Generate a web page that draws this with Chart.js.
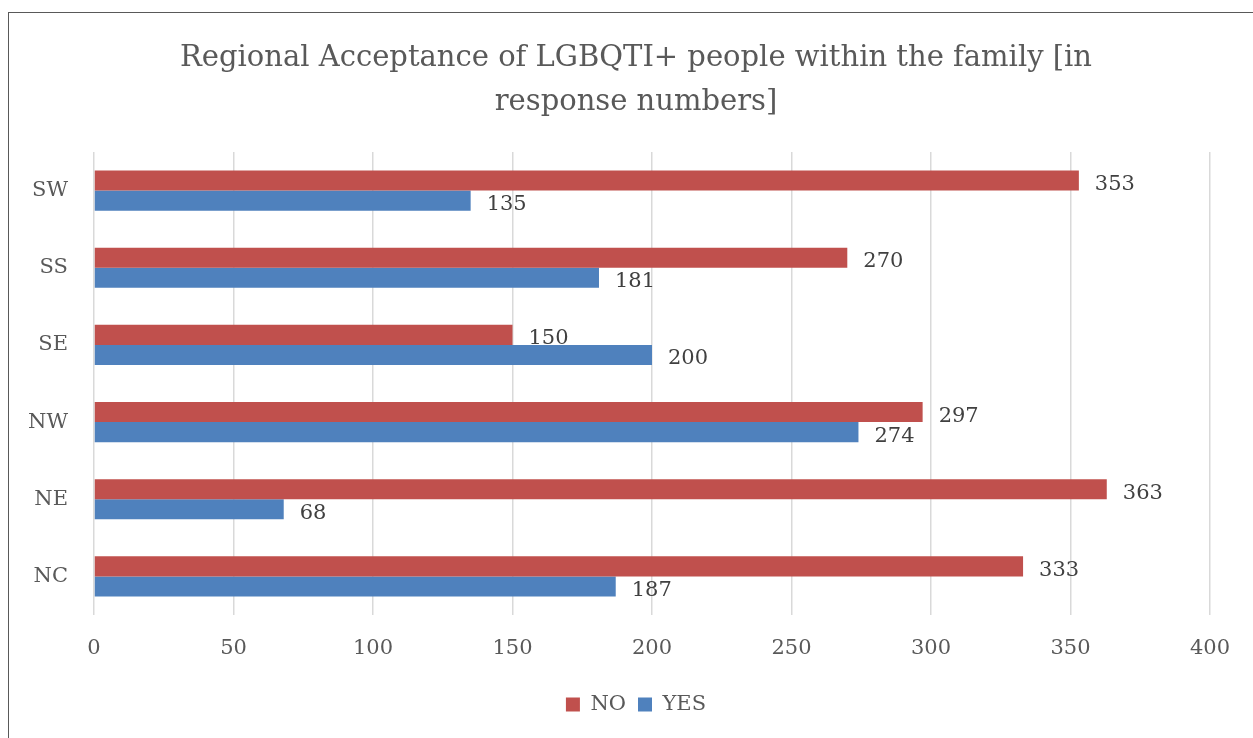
<!DOCTYPE html>
<html>
<head>
<meta charset="utf-8">
<script src="https://cdn.jsdelivr.net/npm/chart.js@4"></script>
<style>
  html, body { margin: 0; padding: 0; background: #fff; overflow: hidden; }
  #wrap { position: relative; width: 1253px; height: 738px; }
  #cadre { position: absolute; left: 8px; top: 12px; width: 1260px; height: 740px; border: 1.5px solid #595959; box-sizing: border-box; }
  canvas { position: absolute; left: 0; top: 0; }
</style>
</head>
<body>
<div id="wrap">
  <div id="cadre"></div>
  <canvas id="myChart" width="1253" height="738"></canvas>
</div>
<script>
// --- DONNÉES ---
const regions = ['SW', 'SS', 'SE', 'NW', 'NE', 'NC'];
const reponsesNon = [353, 270, 150, 297, 363, 333];
const reponsesOui = [135, 181, 200, 274, 68, 187];
const graduations = [0, 50, 100, 150, 200, 250, 300, 350, 400];

const police = '"DejaVu Serif", serif';

// étiquettes de valeur au bout des barres
const etiquettesValeurs = {
    id: 'etiquettesValeurs',
    afterDatasetsDraw(chart) {
        const c = chart.ctx;
        c.save();
        c.font = '21px ' + police;
        c.fillStyle = '#404040';
        c.textAlign = 'left';
        c.textBaseline = 'middle';
        chart.data.datasets.forEach((ds, i) => {
            chart.getDatasetMeta(i).data.forEach((bar, j) => {
                c.fillText(ds.data[j], bar.x + 16, bar.y + 4);
            });
        });
        c.restore();
    }
};

const ctx = document.getElementById('myChart').getContext('2d');
const myChart = new Chart(ctx, {
    type: 'bar',
    data: {
        labels: regions,
        datasets: [
            { label: 'NO', data: reponsesNon, backgroundColor: '#C0504D' },
            { label: 'YES', data: reponsesOui, backgroundColor: '#4F81BD' }
        ]
    },
    options: {
        indexAxis: 'y',
        responsive: false,
        animation: false,
        categoryPercentage: 0.52,
        barPercentage: 1,
        layout: { padding: { left: 28, right: 9, top: 0, bottom: 13 } },
        scales: {
            x: {
                min: 0, max: 400,
                afterBuildTicks: (s) => { s.ticks = graduations.map(v => ({ value: v })); },
                afterFit: (s) => { s.height = 67; },
                grid: { color: '#d9d9d9', lineWidth: 1.5, drawTicks: false },
                border: { display: false },
                ticks: { padding: 21, color: '#595959', font: { family: police, size: 21 } }
            },
            y: {
                afterFit: (s) => { s.width = 66; },
                grid: { display: false, drawTicks: false },
                border: { display: false },
                ticks: { padding: 26, color: '#595959', font: { family: police, size: 21 } }
            },
            // marge à droite pour garder le titre centré sur le cadre
            marge: {
                type: 'category',
                position: 'right',
                afterFit: (s) => { s.width = 34; },
                grid: { display: false, drawTicks: false },
                border: { display: false },
                ticks: { display: false }
            }
        },
        plugins: {
            title: {
                display: true,
                text: ['Regional Acceptance of LGBQTI+ people within the family [in', 'response numbers]'],
                color: '#595959',
                font: { family: police, size: 29, weight: 'normal', lineHeight: 1.5 },
                padding: { top: 37, bottom: 28 }
            },
            legend: {
                position: 'bottom',
                labels: {
                    boxWidth: 14, boxHeight: 14, padding: 12,
                    color: '#595959',
                    font: { family: police, size: 21 }
                }
            },
            tooltip: { enabled: false }
        }
    },
    plugins: [etiquettesValeurs]
});
</script>
</body>
</html>
